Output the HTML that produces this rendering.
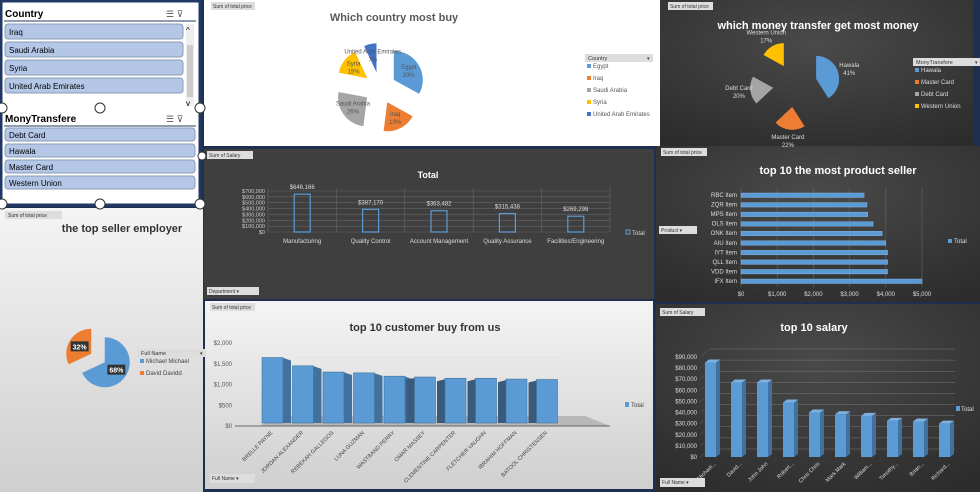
<!DOCTYPE html>
<html><head><meta charset="utf-8"><style>
body{margin:0;width:980px;height:492px;overflow:hidden;background:#1f2f4f;font-family:"Liberation Sans",sans-serif}
svg{display:block}
</style></head><body>
<svg id="s" width="980" height="492" xmlns="http://www.w3.org/2000/svg" font-family="Liberation Sans, sans-serif">
<defs>
<linearGradient id="lg" x1="0" y1="0" x2="0" y2="1"><stop offset="0" stop-color="#f4f4f4"/><stop offset="1" stop-color="#cfcfcf"/></linearGradient>
<radialGradient id="dg" cx="0.5" cy="0.3" r="0.8"><stop offset="0" stop-color="#4a4a4a"/><stop offset="1" stop-color="#2c2c2c"/></radialGradient>
</defs>
<rect width="980" height="492" fill="#1f2f4f"/>
<rect x="204" y="0" width="456" height="146" fill="#fff"/>
<rect x="660" y="0" width="313" height="146" fill="url(#dg)"/>
<rect x="204" y="149" width="450" height="150" fill="#3f3f3f"/>
<rect x="656" y="146" width="324" height="156" fill="url(#dg)"/>
<rect x="0" y="208" width="203" height="284" fill="url(#lg)"/>
<rect x="205" y="301" width="448" height="188" fill="url(#lg)"/>
<rect x="656" y="304" width="324" height="188" fill="url(#dg)"/>
<rect x="1" y="1" width="199" height="204" fill="#fff" stroke="#1f3864" stroke-width="3"/>
<g font-size="9">
<text x="5" y="17" font-weight="bold" font-size="10">Country</text>
<text x="166" y="17" font-size="9" fill="#555">☰ ⊽</text>
<line x1="4" y1="21" x2="196" y2="21" stroke="#1f3864"/>
<g id="cs"></g>
<rect x="186" y="24" width="8" height="82" fill="#eee"/><rect x="187" y="45" width="6" height="52" fill="#ccc"/>
<text x="186" y="33" font-size="8">^</text><text x="186" y="106" font-size="8">v</text>
</g>
<g font-size="9">
<text x="5" y="122" font-weight="bold" font-size="10">MonyTransfere</text>
<text x="166" y="122" font-size="9" fill="#555">☰ ⊽</text>
<line x1="4" y1="126" x2="196" y2="126" stroke="#1f3864"/>
<g id="ms"></g>
</g>
<g fill="#fff" stroke="#333"><circle cx="2" cy="108" r="5"/><circle cx="100" cy="108" r="5"/><circle cx="200" cy="108" r="5"/><circle cx="2" cy="204" r="5"/><circle cx="100" cy="204" r="5"/><circle cx="200" cy="204" r="5"/><circle cx="202" cy="156" r="4"/></g>
<g font-size="5" fill="#333">
<rect x="211" y="2" width="44" height="8" fill="#ddd"/><text x="213" y="8">Sum of total price</text>
<rect x="668" y="2" width="45" height="8" fill="#ddd"/><text x="670" y="8">Sum of total price</text>
<rect x="207" y="151" width="46" height="8" fill="#ddd"/><text x="209" y="157">Sum of Salary</text>
<rect x="207" y="287" width="52" height="8" fill="#ddd"/><text x="209" y="293">Department ▾</text>
<rect x="661" y="148" width="46" height="8" fill="#ddd"/><text x="663" y="154">Sum of total price</text>
<rect x="659" y="226" width="38" height="8" fill="#ddd"/><text x="661" y="232">Product ▾</text>
<rect x="5" y="211" width="57" height="8" fill="#ddd"/><text x="8" y="217">Sum of total price</text>
<rect x="210" y="303" width="45" height="8" fill="#ddd"/><text x="212" y="309">Sum of total price</text>
<rect x="210" y="474" width="45" height="9" fill="#ddd"/><text x="212" y="480">Full Name ▾</text>
<rect x="660" y="308" width="45" height="8" fill="#ddd"/><text x="662" y="314">Sum of Salary</text>
<rect x="660" y="478" width="45" height="9" fill="#ddd"/><text x="662" y="484">Full Name ▾</text>
</g>
<text x="394" y="21" text-anchor="middle" font-size="11" font-weight="bold" fill="#595959">Which country most buy</text>
<text x="818" y="29" text-anchor="middle" font-size="11" font-weight="bold" fill="#fff">which money transfer get most money</text>
<text x="428" y="178" text-anchor="middle" font-size="9" font-weight="bold" fill="#fff">Total</text>
<text x="838" y="174" text-anchor="middle" font-size="11" font-weight="bold" fill="#fff">top 10 the most product seller</text>
<text x="122" y="232" text-anchor="middle" font-size="11" font-weight="bold" fill="#333">the top seller employer</text>
<text x="425" y="331" text-anchor="middle" font-size="11" font-weight="bold" fill="#333">top 10 customer buy from us</text>
<text x="814" y="331" text-anchor="middle" font-size="11" font-weight="bold" fill="#fff">top 10 salary</text>
<g id="dyn"></g>
</svg>
<script>
const countrySlicerItems=["Iraq","Saudi Arabia","Syria","United Arab Emirates"];
const moneySlicerItems=["Debt Card","Hawala","Master Card","Western Union"];
const countryNames=["Egypt","Iraq","Saudi Arabia","Syria","United Arab Emirates"];
const countryPct=[33,19,26,15,7];
const countryColors=["#5b9bd5","#ed7d31","#a5a5a5","#ffc000","#4472c4"];
const moneyNames=["Hawala","Master Card","Debt Card","Western Union"];
const moneyPct=[41,22,20,17];
const moneyColors=["#5b9bd5","#ed7d31","#a5a5a5","#ffc000"];
const empNames=["Michael Michael","David Davidd"];
const empPct=[68,32];
const deptNames=["Manufacturing","Quality Control","Account Management","Quality Assurance","Facilities/Engineering"];
const deptValues=[646166,387170,363482,315438,269298];
const deptTicks=[0,100000,200000,300000,400000,500000,600000,700000];
const prodNames=["RBC Item","ZQR Item","MPS Item","OLS Item","ONK Item","AIU Item","IYT Item","QLL Item","VDD Item","IFX Item"];
const prodValues=[3400,3480,3500,3650,3900,4000,4050,4050,4050,5000];
const prodTicks=[0,1000,2000,3000,4000,5000];
const custNames=["BRELLE PAYNE","JORDAN ALEXANDER","REBEKAH GALLEGOS","LUNA GUZMAN","WASTBAND PERRY","OMAR MASSEY","CLEMENTINE CARPENTER","FLETCHER VAUGHN","IBRAHIM HOFFMAN","BATOOL CHRISTENSEN"];
const custValues=[1650,1450,1300,1280,1200,1180,1150,1150,1130,1120];
const custTicks=[0,500,1000,1500,2000];
const salNames=["Michael...","David...","John John","Robert...","Chris Chris","Mark Mark","William...","Timothy...","Brian...","Richard..."];
const salValues=[85000,67000,67000,49000,40000,38500,37000,32500,32000,30000];
const salTicks=[0,10000,20000,30000,40000,50000,60000,70000,80000,90000];

const NS="http://www.w3.org/2000/svg";
const root=document.getElementById('dyn');
function mk(tag,attrs,parent,txt){const e=document.createElementNS(NS,tag);for(const k in attrs)e.setAttribute(k,attrs[k]);if(txt!==undefined)e.textContent=txt;(parent||root).appendChild(e);return e;}
const money=v=>'$'+v.toLocaleString('en-US');

countrySlicerItems.forEach((n,i)=>{const g=mk('g',{},document.getElementById('cs'));


mk('rect',{x:5,y:24+i*18,width:178,height:15,rx:3,fill:'#b4c7e7',stroke:'#8a9bb5'},g);mk('text',{x:9,y:35+i*18,'font-size':8},g,n);});
moneySlicerItems.forEach((n,i)=>{const g=mk('g',{},document.getElementById('ms'));


mk('rect',{x:5,y:128+i*16,width:190,height:13,rx:3,fill:'#b4c7e7',stroke:'#8a9bb5'},g);mk('text',{x:9,y:138+i*16,'font-size':8},g,n);});

function pie(cx,cy,r,ex,pcts,colors,names,labelColor,name,labels,lrf){
  let a0=0;const tot=pcts.reduce((a,b)=>a+b,0);
  pcts.forEach((p,i)=>{const a1=a0+p/tot*2*Math.PI;const m=(a0+a1)/2;
    const ox=cx+ex*Math.sin(m),oy=cy-ex*Math.cos(m);
    const x0=ox+r*Math.sin(a0),y0=oy-r*Math.cos(a0),x1=ox+r*Math.sin(a1),y1=oy-r*Math.cos(a1);
    const s=mk('path',{d:`M${ox},${oy}L${x0},${y0}A${r},${r} 0 ${a1-a0>Math.PI?1:0} 1 ${x1},${y1}Z`,fill:colors[i]});
    
    
    const lr=r*lrf;const lx=ox+lr*Math.sin(m),ly=oy-lr*Math.cos(m);
    if(labels==='box'){mk('rect',{x:lx-9,y:ly-5,width:18,height:10,fill:'#333'});mk('text',{x:lx,y:ly+3,'text-anchor':'middle','font-size':7,'font-weight':'bold',fill:'#fff'},root,p+'%');}
    else{mk('text',{x:lx,y:ly-2,'text-anchor':'middle','font-size':6,fill:labelColor},root,names[i]);mk('text',{x:lx,y:ly+6,'text-anchor':'middle','font-size':6,fill:labelColor},root,p+'%');}
    a0=a1;});
}
pie(380,88,29,16,countryPct,countryColors,countryNames,'#555','country-pie','in',0.6);
pie(795,85,23,22,moneyPct,moneyColors,moneyNames,'#ddd','money-pie','out',1.5);
pie(98,358,25,8,empPct,["#5b9bd5","#ed7d31"],empNames,'#fff','employer-pie','box',0.55);

function legend(x,y,title,names,colors,tc,bg,name,gap){
  const g=mk('g',{});
  if(title){mk('rect',{x:x,y:y,width:68,height:8,fill:bg},g);mk('text',{x:x+3,y:y+6,'font-size':5.5,fill:'#333'},g,title);mk('text',{x:x+62,y:y+6,'font-size':5,fill:'#333'},g,'▾');}
  names.forEach((n,i)=>{const yy=y+14+i*gap;mk('rect',{x:x+2,y:yy-4,width:4,height:4,fill:colors[i]},g);mk('text',{x:x+8,y:yy,'font-size':6,fill:tc},g,n);});
}
legend(585,54,'Country',countryNames,countryColors,'#555','#ddd','country-legend',12);
legend(913,58,'MonyTransfere',moneyNames,moneyColors,'#ddd','#ddd','money-legend',12);
legend(138,349,'Full Name',empNames,["#5b9bd5","#ed7d31"],'#444','#ddd','employer-legend',12);

{const x0=268,x1=610,yb=232,yt=191,vmax=700000;const y=v=>yb-(v/vmax)*(yb-yt);const bw=(x1-x0)/deptNames.length;
 deptTicks.forEach(t=>{mk('line',{x1:x0,x2:x1,y1:y(t),y2:y(t),stroke:'#666','stroke-width':0.6});mk('text',{x:x0-3,y:y(t)+2,'text-anchor':'end','font-size':5.5,fill:'#ccc'},root,money(t));});
 for(let i=0;i<=deptNames.length;i++)mk('line',{x1:x0+i*bw,x2:x0+i*bw,y1:yt-3,y2:yb,stroke:'#666','stroke-width':0.6});
 deptValues.forEach((v,i)=>{const cx=x0+bw*(i+0.5);const b=mk('rect',{x:cx-8,y:y(v),width:16,height:yb-y(v),fill:'none',stroke:'#5b9bd5','stroke-width':1.2});
  
  
  mk('text',{x:cx,y:y(v)-5,'text-anchor':'middle','font-size':6,fill:'#ddd'},root,money(v));
  mk('text',{x:cx,y:243,'text-anchor':'middle','font-size':6,fill:'#ddd'},root,deptNames[i]);});
 mk('rect',{x:626,y:230,width:4,height:4,fill:'none',stroke:'#5b9bd5'});mk('text',{x:632,y:235,'font-size':6,fill:'#ddd'},root,'Total');}

{const x0=741,x1=922,vmax=5000,yt=195,yb=281;const x=v=>x0+(v/vmax)*(x1-x0);const step=(yb-yt)/(prodNames.length-1);
 prodTicks.forEach(t=>{mk('line',{x1:x(t),x2:x(t),y1:188,y2:287,stroke:'#666','stroke-width':0.6});mk('text',{x:x(t),y:296,'text-anchor':'middle','font-size':6,fill:'#ddd'},root,money(t));});
 prodValues.forEach((v,i)=>{const yy=yt+i*step;const b=mk('rect',{x:x0,y:yy-2,width:x(v)-x0,height:4.5,fill:'#5b9bd5',stroke:'#8fbde8','stroke-width':0.4});
  
  
  mk('text',{x:x0-4,y:yy+2,'text-anchor':'end','font-size':6,fill:'#ddd'},root,prodNames[i]);});
 mk('rect',{x:948,y:239,width:4,height:4,fill:'#5b9bd5'});mk('text',{x:954,y:243,'font-size':6,fill:'#ddd'},root,'Total');}

{const yb=426,yt=343,vmax=2000,x0=270,x1=575;const y=v=>yb-(v/vmax)*(yb-yt);const bw=(x1-x0)/custNames.length;
 mk('polygon',{points:`${x0-10},${yb} ${x1+35},${yb} ${x1+10},${yb-10} ${x0+5},${yb-10}`,fill:'#b8b8b8'});
 mk('line',{x1:235,x2:x1+35,y1:yb,y2:yb,stroke:'#444','stroke-width':0.8});
 [1000,1500].forEach(t=>mk('line',{x1:295,x2:560,y1:y(t)-6,y2:y(t)-6,stroke:'#ddd','stroke-width':0.6}));
 custTicks.forEach(t=>mk('text',{x:232,y:y(t)+2,'text-anchor':'end','font-size':6,fill:'#555'},root,money(t)));
 custValues.forEach((v,i)=>{const bx=x0-8+i*bw;const top=y(v);
  if(i<5){mk('polygon',{points:`${bx+20},${top} ${bx+29},${top+3} ${bx+29},${yb-3} ${bx+20},${yb-3}`,fill:'#41719c'});}
  else{mk('polygon',{points:`${bx},${top+1} ${bx-8},${top+3} ${bx-8},${yb-3} ${bx},${yb-3}`,fill:'#3a5a7c'});}
  const b=mk('rect',{x:bx,y:top,width:21,height:yb-3-top,fill:'#5b9bd5',stroke:'#41719c','stroke-width':0.6});
  
  
  const lx=x0+3+i*bw;mk('text',{x:lx,y:433,'text-anchor':'end','font-size':5.5,fill:'#444',transform:`rotate(-45 ${lx} 433)`},root,custNames[i]);});
 mk('rect',{x:625,y:402,width:4,height:5,fill:'#5b9bd5'});mk('text',{x:631,y:407,'font-size':6,fill:'#444'},root,'Total');}

{const yb=457,yt=357,vmax=90000,x0=700,x1=960;const y=v=>yb-(v/vmax)*(yb-yt);const bw=(x1-x0)/salNames.length;
 salTicks.forEach(t=>{mk('line',{x1:x0,x2:x0+10,y1:y(t),y2:y(t)-8,stroke:'#666','stroke-width':0.5});mk('line',{x1:x0+10,x2:x1-5,y1:y(t)-8,y2:y(t)-8,stroke:'#777','stroke-width':0.5});mk('text',{x:x0-3,y:y(t)+2,'text-anchor':'end','font-size':6,fill:'#ddd'},root,money(t));});
 salValues.forEach((v,i)=>{const bx=x0+5+i*bw;const top=y(v);const w=11;
  mk('polygon',{points:`${bx+w},${top} ${bx+w+4},${top-3} ${bx+w+4},${yb-3} ${bx+w},${yb}`,fill:'#41719c'});
  mk('polygon',{points:`${bx},${top} ${bx+4},${top-3} ${bx+w+4},${top-3} ${bx+w},${top}`,fill:'#7fb1e0'});
  const b=mk('rect',{x:bx,y:top,width:w,height:yb-top,fill:'#5b9bd5'});
  
  
  const lx=bx+w;mk('text',{x:lx,y:464,'text-anchor':'end','font-size':5.5,fill:'#ddd',transform:`rotate(-45 ${lx} 464)`},root,salNames[i]);});
 mk('rect',{x:956,y:406,width:4,height:5,fill:'#5b9bd5'});mk('text',{x:961,y:411,'font-size':6,fill:'#ddd'},root,'Total');}
</script>
</body></html>
